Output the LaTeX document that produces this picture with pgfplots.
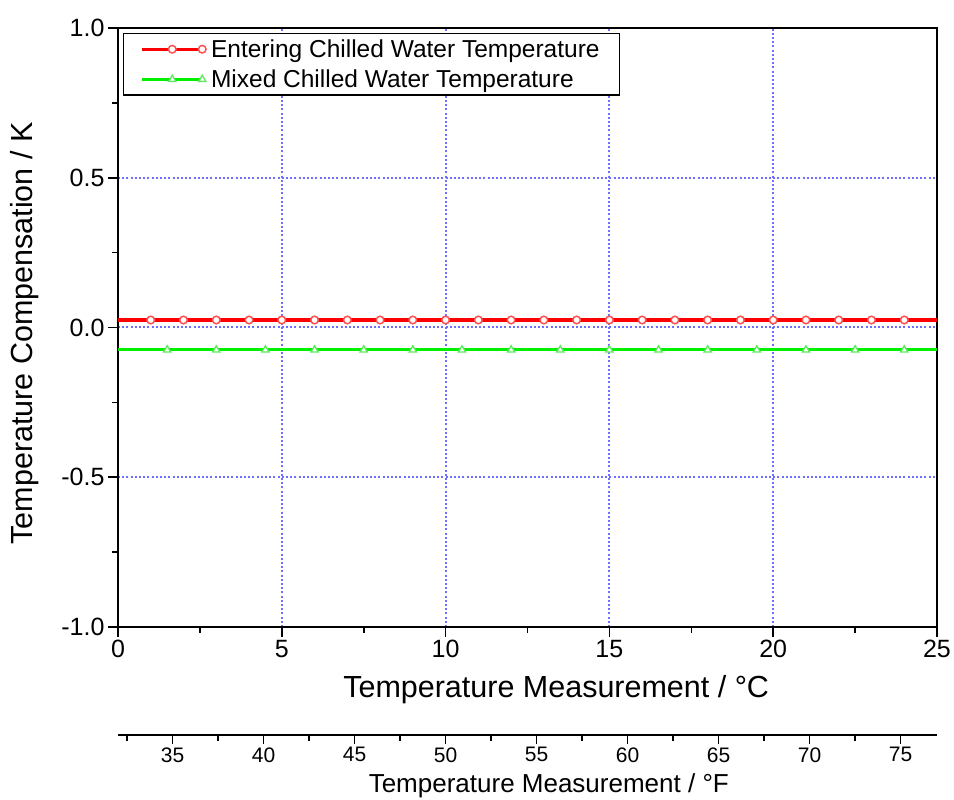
\documentclass[border=0pt]{standalone}
\usepackage{fontspec}
\setmainfont{Liberation Sans}
\usepackage{pgfplots}
\pgfplotsset{compat=1.18}
\definecolor{redline}{RGB}{255,0,0}
\definecolor{redmark}{RGB}{255,80,80}
\definecolor{greenline}{RGB}{0,240,0}
\definecolor{greenmark}{RGB}{90,235,90}
\definecolor{gridblue}{RGB}{110,110,255}
\begin{document}
\begin{tikzpicture}
\useasboundingbox (0,0) rectangle (954pt,800pt);
\begin{axis}[
  at={(118pt,173pt)}, anchor=south west,
  width=819pt, height=599pt, scale only axis,
  xmin=0, xmax=25, ymin=-1, ymax=1,
  xtick={0,5,...,25}, ytick={-1,-0.5,0,0.5,1},
  minor x tick num=1, minor y tick num=1,
  xtick pos=bottom, ytick pos=left,
  tick align=outside,
  major tick length=10pt, minor tick length=6pt,
  major tick style={black, line width=1.6pt},
  minor tick style={black, line width=1.6pt},
  axis line style={line width=2pt},
  xmajorgrids, ymajorgrids,
  every axis grid/.style={draw=gridblue, line width=2pt, dash pattern=on 2pt off 2.2pt},
  /pgf/number format/assume math mode=true,
  yticklabel style={/pgf/number format/.cd, fixed, fixed zerofill, precision=1},
  ticklabel style={font=\fontsize{25}{30}\selectfont},
  xlabel={Temperature Measurement / °C},
  ylabel={Temperature Compensation / K},
  label style={font=\fontsize{30.5}{36}\selectfont},
  xlabel style={at={(axis description cs:0.535,-0.1169)}, anchor=base},
  ylabel style={at={(axis description cs:-0.1038,0.49)}, anchor=base},
  legend style={at={(axis description cs:0.0061,0.9917)}, anchor=north west,
    draw=black, line width=1.3pt, fill=white,
    font=\fontsize{24.5}{28}\selectfont,
    inner xsep=17pt, inner ysep=3pt, row sep=5pt, column sep=2pt,
    nodes={inner xsep=3pt, inner ysep=3pt}},
  legend cell align=left,
  legend image code/.code={\draw[mark repeat=2, mark phase=2] plot coordinates {(0pt,0pt) (30pt,0pt) (60pt,0pt)};},
]
\addplot[redline, line width=3.2pt, mark=*, mark size=3.8pt,
  mark options={draw=redmark, fill=white, line width=1.5pt},
  mark indices={2,3,4,5,6,7,8,9,10,11,12,13,14,15,16,17,18,19,20,21,22,23,24,25}]
  coordinates {(0,0.025) (1,0.025) (2,0.025) (3,0.025) (4,0.025) (5,0.025) (6,0.025) (7,0.025) (8,0.025) (9,0.025) (10,0.025) (11,0.025) (12,0.025) (13,0.025) (14,0.025) (15,0.025) (16,0.025) (17,0.025) (18,0.025) (19,0.025) (20,0.025) (21,0.025) (22,0.025) (23,0.025) (24,0.025) (25,0.025)};
\addlegendentry{Entering Chilled Water Temperature}
\addplot[greenline, line width=3pt, mark=triangle*, mark size=4.2pt,
  mark options={draw=greenmark, fill=white, line width=1.3pt},
  mark indices={2,3,4,5,6,7,8,9,10,11,12,13,14,15,16,17}]
  coordinates {(0,-0.075) (1.5,-0.075) (3,-0.075) (4.5,-0.075) (6,-0.075) (7.5,-0.075) (9,-0.075) (10.5,-0.075) (12,-0.075) (13.5,-0.075) (15,-0.075) (16.5,-0.075) (18,-0.075) (19.5,-0.075) (21,-0.075) (22.5,-0.075) (24,-0.075) (25,-0.075)};
\addlegendentry{Mixed Chilled Water Temperature}
\end{axis}
\begin{axis}[
  at={(118pt,65pt)}, anchor=south west,
  width=819pt, height=20pt, scale only axis,
  xmin=32, xmax=77, ymin=0, ymax=1,
  axis x line*=bottom, axis y line=none,
  xtick={35,40,...,75}, minor xtick={32.5,37.5,...,72.5},
  tick align=outside,
  major tick length=9pt, minor tick length=6pt,
  major tick style={black, line width=1.6pt},
  minor tick style={black, line width=1.6pt},
  axis line style={line width=2pt},
  /pgf/number format/assume math mode=true,
  ticklabel style={font=\fontsize{21}{25}\selectfont},
  xlabel={Temperature Measurement / °F},
  label style={font=\fontsize{26}{31}\selectfont},
  xlabel style={at={(axis description cs:0.526,-2.9)}, anchor=base},
]
\end{axis}
\end{tikzpicture}
\end{document}
